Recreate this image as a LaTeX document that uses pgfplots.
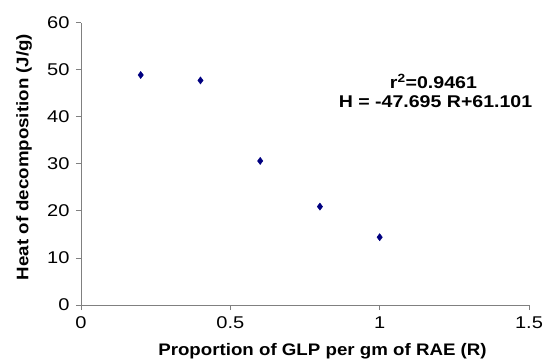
\documentclass[border=0pt]{standalone}
\usepackage{fontspec}
\setmainfont{Liberation Sans}
\newfontfamily\tickfont[FakeStretch=1.18]{Liberation Sans}
\newfontfamily\labfont[FakeStretch=1.12]{Liberation Sans}
\newfontfamily\annfont[FakeStretch=1.15]{Liberation Sans}
\usepackage{pgfplots}
\pgfplotsset{compat=1.18}
\definecolor{navyblue}{RGB}{0,0,128}
\definecolor{axgray}{RGB}{128,128,128}
\begin{document}
\begin{tikzpicture}[x=1pt,y=1pt]
\begin{axis}[
  at={(0,0)}, anchor=south west,
  scale only axis,
  width=448pt, height=282.5pt,
  xmin=0, xmax=1.5, ymin=0, ymax=60,
  xtick={0,0.5,1,1.5},
  ytick={0,10,20,30,40,50,60},
  axis x line*=bottom, axis y line*=left,
  axis line style={-, axgray, line width=0.8pt},
  tick style={axgray, line width=0.8pt},
  tick align=outside,
  major tick length=5pt,
  /pgf/number format/assume math mode=true,
  ticklabel style={font=\tickfont\fontsize{17}{17}\selectfont, black},
  xticklabel style={yshift=-3pt},
  yticklabel style={xshift=-3pt},
  xlabel={Proportion of GLP per gm of RAE (R)},
  ylabel={Heat of decomposition (J/g)},
  every axis x label/.style={at={(axis description cs:0.539,-0.1795)}, anchor=base},
  every axis y label/.style={at={(axis description cs:-0.127,0.524)}, rotate=90, anchor=center},
  label style={font=\labfont\bfseries\fontsize{16.7}{16.7}\selectfont},
  clip=false,
]
\addplot[only marks, mark=diamond*, mark size=3.6pt, color=navyblue] coordinates {
  (0.2,48.85) (0.4,47.7) (0.6,30.6) (0.8,20.9) (1.0,14.4)
};
\node[font=\annfont\bfseries\fontsize{17}{17}\selectfont, anchor=base, inner sep=0pt]
  at (axis cs:1.18,46.0) {r\textsuperscript{2}=0.9461};
\node[font=\annfont\bfseries\fontsize{17}{17}\selectfont, anchor=base, inner sep=0pt]
  at (axis cs:1.187,41.95) {H = -47.695 R+61.101};
\end{axis}
\pgfresetboundingbox
\path[use as bounding box] (-81,-55) rectangle (463,305);
\end{tikzpicture}
\end{document}
